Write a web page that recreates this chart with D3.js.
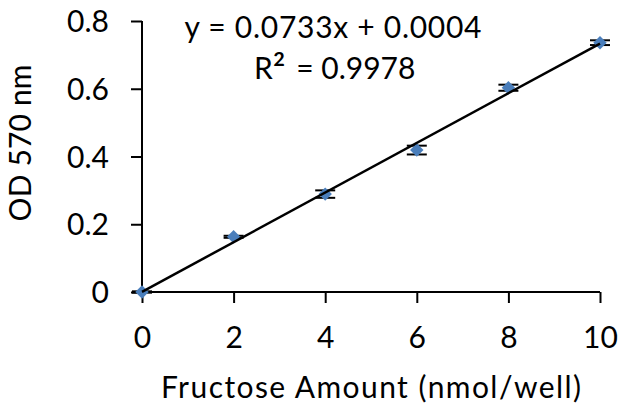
<!DOCTYPE html>
<html>
<head>
<meta charset="utf-8">
<script src="https://cdn.jsdelivr.net/npm/d3@7"></script>
<style>
  body { margin: 0; background: #fff; }
  text { font-family: Lato, "Open Sans", sans-serif; fill: #000; }
</style>
</head>
<body>
<svg id="chart"></svg>
<script>
// standard curve data
const amounts = [0, 2, 4, 6, 8, 10];
const od570 = [0.000, 0.163, 0.289, 0.419, 0.603, 0.736];
const odErr = [0.002, 0.003, 0.011, 0.013, 0.009, 0.007];
const xTicks = [0, 2, 4, 6, 8, 10];
const yTicks = [0, 0.2, 0.4, 0.6, 0.8];
// linear trendline as printed on the chart
const slope = 0.0733;
const intercept = 0.0004;
const eqLabel = 'y = 0.0733x + 0.0004';
const r2Value = '0.9978';

const width = 618, height = 406;
const fontSize = 30;

const svg = d3.select('#chart')
    .attr('width', width)
    .attr('height', height);

const x = d3.scaleLinear().domain([0, 10]).range([142, 600]);
const y = d3.scaleLinear().domain([0, 0.8]).range([292, 21]);

// y axis
const yAxis = svg.append('g')
    .attr('transform', `translate(${x(0)},0)`)
    .call(d3.axisLeft(y).tickValues(yTicks).tickSize(11).tickPadding(22)
        .tickFormat(d => d === 0 ? '0' : d3.format('.1f')(d)));
yAxis.select('.domain').attr('stroke', '#000').attr('stroke-width', 2).attr('d', `M0,${y(0.8)}V${y(0)}`);
yAxis.selectAll('.tick line').attr('stroke', '#000').attr('stroke-width', 2);
yAxis.selectAll('.tick text')
    .attr('font-size', fontSize)
    .attr('dy', '0.35em');

// x axis
const xAxis = svg.append('g')
    .attr('transform', `translate(0,${y(0)})`)
    .call(d3.axisBottom(x).tickValues(xTicks).tickSize(11).tickFormat(d3.format('d')));
xAxis.select('.domain').attr('stroke', '#000').attr('stroke-width', 2).attr('d', `M${x(0)},0H${x(10)}`);
xAxis.selectAll('.tick line').attr('stroke', '#000').attr('stroke-width', 2);
xAxis.selectAll('.tick text')
    .attr('font-size', fontSize)
    .attr('y', 56)
    .attr('dy', 0);

// axis titles
svg.append('text')
    .attr('x', 371)
    .attr('y', 398)
    .attr('text-anchor', 'middle')
    .attr('font-size', fontSize)
    .attr('textLength', 420)
    .attr('lengthAdjust', 'spacing')
    .text('Fructose Amount (nmol/well)');

svg.append('text')
    .attr('transform', 'translate(31,143) rotate(-90)')
    .attr('text-anchor', 'middle')
    .attr('font-size', fontSize)
    .attr('textLength', 157)
    .attr('lengthAdjust', 'spacing')
    .text('OD 570 nm');

const points = amounts.map((a, i) => ({ a: a, v: od570[i], e: odErr[i] }));

// error bars
const bars = svg.append('g')
    .attr('stroke', '#000')
    .attr('stroke-width', 2)
    .selectAll('g')
    .data(points.filter(d => d.e > 0))
    .enter()
    .append('g');
bars.append('line')
    .attr('x1', d => x(d.a)).attr('x2', d => x(d.a))
    .attr('y1', d => y(d.v - d.e)).attr('y2', d => y(d.v + d.e));
bars.append('line')
    .attr('x1', d => x(d.a) - 10).attr('x2', d => x(d.a) + 10)
    .attr('y1', d => y(d.v + d.e)).attr('y2', d => y(d.v + d.e));
bars.append('line')
    .attr('x1', d => x(d.a) - 10).attr('x2', d => x(d.a) + 10)
    .attr('y1', d => y(d.v - d.e)).attr('y2', d => y(d.v - d.e));

// markers
svg.append('g').selectAll('path')
    .data(points)
    .enter()
    .append('path')
    .attr('d', d3.symbol().type(d3.symbolSquare).size(90))
    .attr('transform', d => `translate(${x(d.a)},${y(d.v)}) rotate(45)`)
    .attr('fill', '#4A7EBB');

// trendline
const trend = [0, 10].map(a => ({ a: a, v: slope * a + intercept }));
svg.append('path')
    .datum(trend)
    .attr('d', d3.line().x(d => x(d.a)).y(d => y(d.v)))
    .attr('fill', 'none')
    .attr('stroke', '#000')
    .attr('stroke-width', 2.5);

// equation labels
svg.append('text')
    .attr('x', 333)
    .attr('y', 38)
    .attr('text-anchor', 'middle')
    .attr('font-size', fontSize)
    .attr('textLength', 297)
    .attr('lengthAdjust', 'spacing')
    .text(eqLabel);
const r2 = svg.append('text')
    .attr('x', 254)
    .attr('y', 79)
    .attr('font-size', fontSize);
r2.append('tspan').text('R');
r2.append('tspan').attr('font-size', 38).attr('dy', 5).text('²');
r2.append('tspan').attr('dy', -5).attr('dx', 3).text(' = ' + r2Value);
</script>
</body>
</html>
